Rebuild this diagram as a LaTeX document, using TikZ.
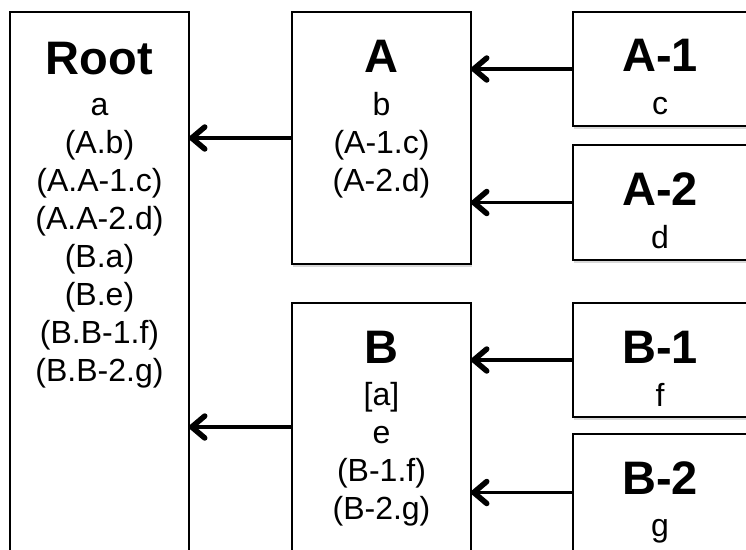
\documentclass[tikz,border=0pt]{standalone}
\usepackage{fontspec}
\setmainfont{Liberation Sans}
\usetikzlibrary{arrows.meta,shadows}
\begin{document}
\begin{tikzpicture}[x=1pt,y=-1pt,
  box/.style={draw=black, line width=1.6pt, fill=white, rectangle, inner sep=0pt, outer sep=0pt, anchor=north west,
    drop shadow={shadow xshift=1pt, shadow yshift=-3pt, opacity=0.3}},
  ttl/.style={anchor=base, inner sep=0pt, font=\fontsize{47}{50}\selectfont\bfseries},
  txt/.style={anchor=base, inner sep=0pt, font=\fontsize{32}{38}\selectfont},
  arr/.style={line width=3.2pt, -{Straight Barb[length=13pt,width=22pt,line width=5.5pt,round]}}]
\useasboundingbox (0,0) rectangle (746,549);
\fill[white] (0,0) rectangle (746,549);
% boxes
\node[box, minimum width=179pt, minimum height=540pt] (Root) at (10,12) {};
\node[box, minimum width=179pt, minimum height=252pt] (A) at (292,12) {};
\node[box, minimum width=179pt, minimum height=248pt] (B) at (292,303) {};
\node[box, minimum width=175pt, minimum height=114pt] (A1) at (573,12) {};
\node[box, minimum width=175pt, minimum height=115pt] (A2) at (573,145) {};
\node[box, minimum width=175pt, minimum height=114pt] (B1) at (573,303) {};
\node[box, minimum width=175pt, minimum height=117pt] (B2) at (573,434) {};
% Root text
\node[ttl] (rT) at (99.5,74) {Root};
\foreach \t [count=\i] in {a,(A.b),(A.A-1.c),(A.A-2.d),(B.a),(B.e),(B.B-1.f),(B.B-2.g)}
  \node[txt] (r\i) at (99.5,{115+38*(\i-1)}) {\t};
% A text
\node[ttl] (aT) at (381.5,72) {A};
\foreach \t [count=\i] in {b,(A-1.c),(A-2.d)}
  \node[txt] (a\i) at (381.5,{115+38*(\i-1)}) {\t};
% B text
\node[ttl] (bT) at (381.5,363) {B};
\foreach \t [count=\i] in {{[a]},e,(B-1.f),(B-2.g)}
  \node[txt] (b\i) at (381.5,{405+38*(\i-1)}) {\t};
% leaf text
\node[ttl] (a1T) at (660,71) {A-1};
\node[txt] (a1t) at (660,114) {c};
\node[ttl] (a2T) at (660,205) {A-2};
\node[txt] (a2t) at (660,248) {d};
\node[ttl] (b1T) at (660,363) {B-1};
\node[txt] (b1t) at (660,406) {f};
\node[ttl] (b2T) at (660,494) {B-2};
\node[txt] (b2t) at (660,536) {g};
% arrows
\draw[arr] (A.west) -- (Root.east |- A.west);
\draw[arr] (B.west) -- (Root.east |- B.west);
\draw[arr] (A1.west) -- (A.east |- A1.west);
\draw[arr] (A2.west) -- (A.east |- A2.west);
\draw[arr] (B1.west) -- (B.east |- B1.west);
\draw[arr] (B2.west) -- (B.east |- B2.west);
\end{tikzpicture}
\end{document}
